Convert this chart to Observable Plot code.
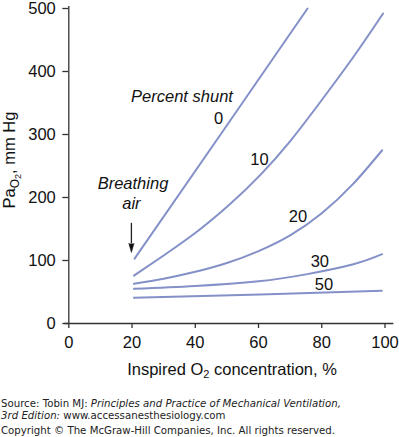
<!DOCTYPE html>
<html><head><meta charset="utf-8">
<script src="https://cdn.jsdelivr.net/npm/d3@7"></script>
<script src="https://cdn.jsdelivr.net/npm/@observablehq/plot@0.6"></script>
<style>
body{margin:0;background:#fff;width:399px;height:437px;position:relative;overflow:hidden}
#chart{position:absolute;left:0;top:0}
.foot{position:absolute;left:1px;font-family:"DejaVu Sans",sans-serif;font-size:10.2px;line-height:12px;color:#222;white-space:nowrap}
</style></head><body>
<div id="chart"></div>
<div class="foot" style="top:398.3px">Source: Tobin MJ: <i>Principles and Practice of Mechanical Ventilation,</i></div>
<div class="foot" style="top:410.3px"><i>3rd Edition:</i> www.accessanesthesiology.com</div>
<div class="foot" style="top:425.3px">Copyright © The McGraw-Hill Companies, Inc. All rights reserved.</div>
<script>
// Data
const shunts = ["0", "10", "20", "30", "50"];
const shunt0  = [[20.8,103],[48,300],[75.5,500]];
const shunt10 = [[20.6,76],[30,108],[40.6,146],[51.1,190],[60.6,236],[70.1,290],[79.6,352],[90,423],[99.4,492]];
const shunt20 = [[20.6,63],[30,71],[40,82],[50,96],[60,115],[70,140],[80,175],[90,222],[99.1,275]];
const shunt30 = [[20.6,55],[40,59.5],[60,67],[75,78],[90,94],[99.1,110]];
const shunt50 = [[20.6,41],[60.6,46],[99,52]];
const xTicks = [0, 20, 40, 60, 80, 100];
const yTicks = [0, 100, 200, 300, 400, 500];
const labelX = [47.4, 60.3, 72.5, 79.4, 80.7];
const labelY = [325, 260, 170, 98, 62];
const notes = ["Percent shunt", "Breathing", "air"];
const noteX = [35.8, 20.3, 19.8];
const noteY = [360, 222, 190];
const arrowX = 19.8, arrowFrom = 159, arrowTo = 127;

const seriesPts = [shunt0, shunt10, shunt20, shunt30, shunt50];
const rows = seriesPts.flatMap((pts, i) => pts.map(([x, y]) => ({shunt: shunts[i], x, y})));

const curveColor = "#8490c8";
const axisColor = "#333";
const fs = 16.5;

const plot = Plot.plot({
  width: 399, height: 395,
  marginLeft: 68.3, marginRight: 14.5, marginTop: 8, marginBottom: 72,
  style: {fontFamily: "'Liberation Sans', Arial, sans-serif", fontSize: fs + "px", color: "#111", background: "white", overflow: "visible"},
  x: {domain: [0, 100]},
  y: {domain: [0, 500]},
  marks: [
    Plot.axisX({ticks: xTicks, tickSize: 5, tickPadding: 8, label: null, fontSize: fs, stroke: axisColor, strokeWidth: 1.3}),
    Plot.axisY({ticks: yTicks, tickSize: 6, tickPadding: 7, label: null, fontSize: fs, stroke: axisColor, strokeWidth: 1.3}),
    Plot.ruleY([0], {x1: () => -1.3, x2: () => 102.8, stroke: axisColor, strokeWidth: 1.3, clip: false}),
    Plot.ruleX([0], {y1: () => 0, y2: () => 503, stroke: axisColor, strokeWidth: 1.3, clip: false}),
    Plot.line(rows, {x: "x", y: "y", z: "shunt", stroke: curveColor, strokeWidth: 2, curve: "natural"}),
    Plot.text(shunts, {x: (d, i) => labelX[i], y: (d, i) => labelY[i], text: d => d, fontSize: fs, fill: "#111"}),
    Plot.text(notes, {x: (d, i) => noteX[i], y: (d, i) => noteY[i], text: d => d, fontSize: fs, fontStyle: "italic", fill: "#111"}),
    Plot.ruleX([arrowX], {y1: () => arrowFrom, y2: () => arrowTo, stroke: "#222", strokeWidth: 1.3}),
    Plot.vector([arrowX], {x: d => d, y: () => arrowTo, length: 9, r: 2.6, rotate: 180, shape: "spike", anchor: "start", fill: "#111", stroke: "#111", strokeWidth: 0.5})
  ]
});

const svg = d3.select(plot);
// Y axis label with subscript
const yl = svg.append("text")
  .attr("transform", "translate(15,160) rotate(-90)")
  .attr("text-anchor", "middle")
  .attr("font-size", fs).attr("fill", "#111");
yl.append("tspan").text("Pa");
yl.append("tspan").attr("font-size", 12).attr("dy", 4).text("O");
yl.append("tspan").attr("font-size", 9).attr("dy", 2).text("2");
yl.append("tspan").attr("dy", -6).text(", mm Hg");
// X axis label with subscript
const xl = svg.append("text")
  .attr("x", 232).attr("y", 375)
  .attr("text-anchor", "middle")
  .attr("font-size", fs).attr("fill", "#111");
xl.append("tspan").text("Inspired O");
xl.append("tspan").attr("font-size", 11).attr("dy", 3).text("2");
xl.append("tspan").attr("dy", -3).text(" concentration, %");

document.getElementById("chart").appendChild(plot);
</script>
</body></html>
